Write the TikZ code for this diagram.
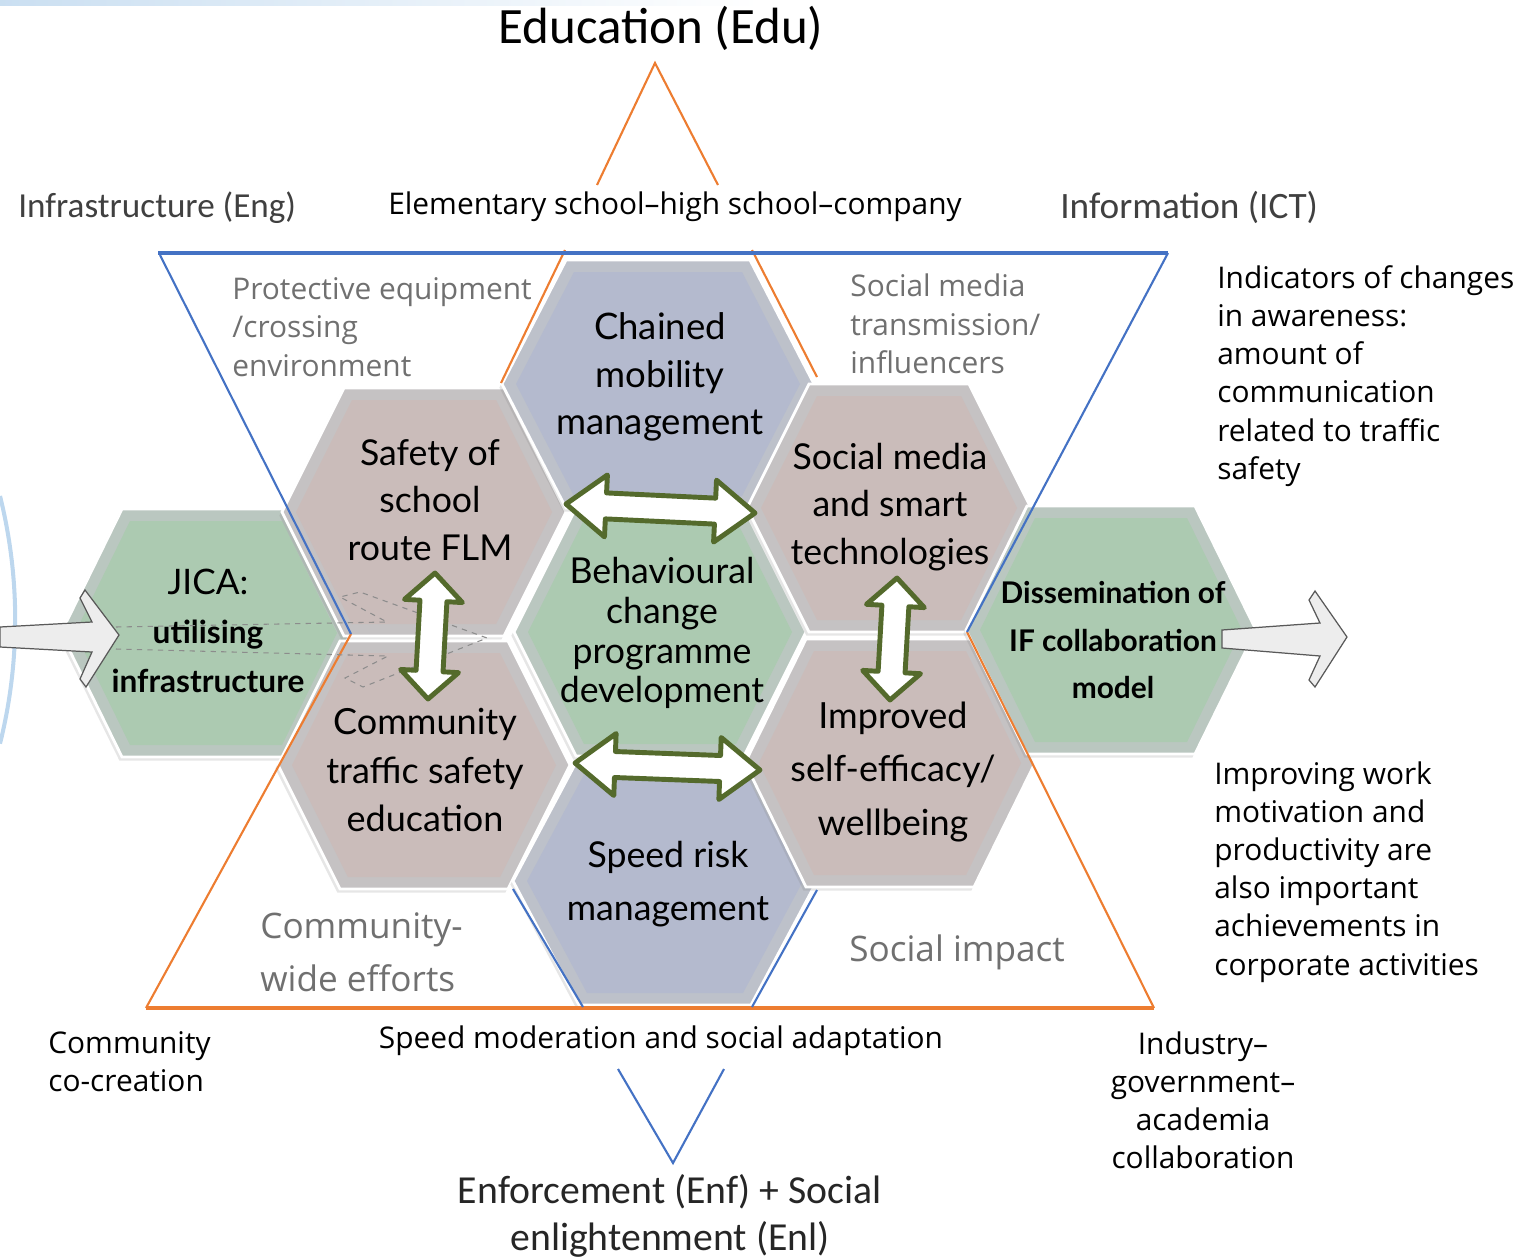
\documentclass[tikz,border=0pt]{standalone}
\usepackage{fontspec}
\setmainfont{Open Sans}
\newfontfamily\latofont{Lato}
\newfontfamily\calfont{Carlito}
\usetikzlibrary{calc,shadows}
\definecolor{hexgreen}{RGB}{172,202,177}
\definecolor{hexpink}{RGB}{202,188,186}
\definecolor{hexblue}{RGB}{180,186,206}
\definecolor{hexframe}{RGB}{194,197,200}
\definecolor{triorange}{RGB}{237,125,49}
\definecolor{triblue}{RGB}{68,114,196}
\definecolor{arrgreen}{RGB}{84,106,44}
\definecolor{lblgray}{RGB}{112,112,112}
\definecolor{arcblue}{RGB}{189,215,238}
\definecolor{blockfill}{RGB}{237,237,237}
\definecolor{blockline}{RGB}{89,89,89}
\definecolor{titlegray}{RGB}{64,64,64}
\definecolor{ghostgray}{RGB}{140,140,140}

% double block arrow between two named coordinates
\newcommand{\dblarr}[5]{%
  \draw[dblarrow] (#1)
   -- ($(#1)!#3!(#2)!#4!90:(#2)$)
   -- ($(#1)!#3!(#2)!#5!90:(#2)$)
   -- ($(#2)!#3!(#1)!#5!-90:(#1)$)
   -- ($(#2)!#3!(#1)!#4!-90:(#1)$)
   -- (#2)
   -- ($(#2)!#3!(#1)!#4!90:(#1)$)
   -- ($(#2)!#3!(#1)!#5!90:(#1)$)
   -- ($(#1)!#3!(#2)!#5!-90:(#2)$)
   -- ($(#1)!#3!(#2)!#4!-90:(#2)$)
   -- cycle;}

% bevelled hexagon: name, cx, cy, colour, half width at vertices, half width of top edge
\newcommand{\hexcell}[6]{%
  \coordinate (#1) at (#2,#3);
  \filldraw[hexouter, fill=#4!35!hexframe]
    ({#2-#5},#3) -- ({#2-#6},{#3-124}) -- ({#2+#6},{#3-124})
    -- ({#2+#5},#3) -- ({#2+#6},{#3+124}) -- ({#2-#6},{#3+124}) -- cycle;
  \fill[#4]
    ({#2-#5+14},#3) -- ({#2-#6+8},{#3-112}) -- ({#2+#6-8},{#3-112})
    -- ({#2+#5-14},#3) -- ({#2+#6-8},{#3+112}) -- ({#2-#6+8},{#3+112}) -- cycle;}

\tikzset{
  hexouter/.style={draw=white, line width=1.6pt,
    drop shadow={opacity=0.2, shadow xshift=-1.5pt, shadow yshift=-2pt}},
  hextext/.style={font=\latofont\fontsize{20.3}{27}\selectfont, align=center, inner sep=0pt},
  orangeline/.style={draw=triorange, line width=1.2pt},
  blueline/.style={draw=triblue, line width=1.2pt},
  dblarrow/.style={draw=arrgreen, fill=white, line width=2.8pt, line join=round},
  blockarrow/.style={draw=blockline, fill=blockfill, line width=0.7pt},
  ghost/.style={draw=ghostgray, dashed, line width=0.6pt},
  graylbl/.style={font=\fontsize{17}{21.8}\selectfont, text=lblgray, align=left, inner sep=0pt},
  biggray/.style={font=\fontsize{20}{30}\selectfont, text=lblgray, align=left, inner sep=0pt},
  blacklbl/.style={font=\fontsize{17}{21.7}\selectfont, text=black, inner sep=0pt},
  titlelbl/.style={font=\calfont\fontsize{20}{24}\selectfont, text=titlegray, inner sep=0pt}
}

\begin{document}
\begin{tikzpicture}[x=0.02cm, y=-0.02cm]
\useasboundingbox (0,0) rectangle (1526,1258);

% top-left faint bar and left arc
\shade[left color=arcblue!80, right color=white] (0,0) rectangle (760,5);
\draw[arcblue, line width=2.3pt] (0,496) arc[start angle=14, end angle=-14, radius=10.24cm];

% hexagons
\hexcell{hJICA}{206}{633}{hexgreen}{145}{84}
\hexcell{hSafety}{424}{512}{hexpink}{142}{80}
\hexcell{hComm}{424}{765}{hexpink}{146}{84}
\hexcell{hSpeed}{665}{881}{hexblue}{152}{86}
\hexcell{hBehav}{660}{632}{hexgreen}{146}{84}
\hexcell{hChained}{658}{384}{hexblue}{156}{92}
\hexcell{hSocial}{889}{508}{hexpink}{142}{80}
\hexcell{hImpr}{890}{763}{hexpink}{145}{84}
\hexcell{hDiss}{1111}{630}{hexgreen}{145}{84}

% triangle lines (visible parts)
\draw[orangeline] (597,185) -- (655,63) -- (718,185);
\draw[orangeline] (565,250) -- (501,383);
\draw[orangeline] (752,250) -- (817,377);
\draw[orangeline] (351,634) -- (146,1008);
\draw[orangeline] (967,632) -- (1154,1008);
\draw[triorange, line width=2pt] (146,1008) -- (1154,1008);
\draw[triblue, line width=1.8pt] (158,253) -- (1168,253);
\draw[blueline] (160,255) -- (351,634);
\draw[blueline] (1168,253) -- (967,632);
\draw[blueline] (513,889) -- (583,1007);
\draw[blueline] (817,890) -- (752,1007);
\draw[blueline] (618,1069) -- (673,1163) -- (724,1069);

% hexagon texts
\node[hextext] (xSafety) at (430,500) {Safety of\\school\\route FLM};
\node[hextext, font=\latofont\fontsize{20.8}{27}\selectfont] (xChained) at (660,377) {Chained\\mobility\\management};
\node[hextext] (xSocial) at (890,507) {Social media\\and smart\\technologies};
\node[hextext, font=\latofont\fontsize{20.3}{22.7}\selectfont] (xBehav) at (662,633)
  {Behavioural\\change\\programme\\development};
\node[hextext, font=\latofont\fontsize{20.5}{27.5}\selectfont] (xComm) at (425,770)
  {Community\\traffic safety\\education};
\node[hextext, font=\latofont\fontsize{20.5}{30.6}\selectfont] (xImpr) at (893,772)
  {Improved\\self-efficacy/\\wellbeing};
\node[hextext, font=\latofont\fontsize{20.3}{30}\selectfont] (xSpeed) at (668,884)
  {Speed risk\\management};
\node[hextext, font=\latofont\fontsize{20}{28}\selectfont] (xJICA) at (208,631)
  {JICA:\\{\bfseries\fontsize{18}{27}\selectfont utilising}\\{\bfseries\fontsize{18}{27}\selectfont infrastructure}};
\node[hextext, font=\latofont\bfseries\fontsize{17}{27}\selectfont] (xDiss) at (1113,640)
  {Dissemination of\\IF collaboration\\model};

% dashed ghost arrow outline
\draw[ghost] (116,627) -- (387,622) -- (340,597) -- (360,592) -- (487,638)
  -- (363,687) -- (345,678) -- (388,656) -- (116,649);

% grey block arrows
\draw[blockarrow] (0,627) -- (92,622) -- (80,598) -- (85,590) -- (119,635)
  -- (86,687) -- (80,679) -- (92,652) -- (0,647) -- cycle;
\draw[blockarrow] (1222,630) -- (1320,623) -- (1309,600) -- (1315,591) -- (1347,637)
  -- (1315,687) -- (1309,680) -- (1320,656) -- (1222,648) -- cycle;

% green double arrows
\coordinate (tA1) at (566,504); \coordinate (tA2) at (755,513);
\coordinate (tB1) at (575,763); \coordinate (tB2) at (760,770);
\coordinate (tC1) at (435,573); \coordinate (tC2) at (428,699);
\coordinate (tD1) at (897,578); \coordinate (tD2) at (890,700);
\dblarr{tA1}{tA2}{0.8cm}{0.62cm}{0.26cm}
\dblarr{tB1}{tB2}{0.8cm}{0.62cm}{0.26cm}
\dblarr{tC1}{tC2}{0.56cm}{0.58cm}{0.27cm}
\dblarr{tD1}{tD2}{0.56cm}{0.58cm}{0.27cm}

% titles
\node[font=\calfont\fontsize{29}{34}\selectfont, text=black, inner sep=0pt] (tEdu) at (661,28) {Education (Edu)};
\node[titlelbl, anchor=west] (tEng) at (18,208) {Infrastructure (Eng)};
\node[titlelbl, font=\calfont\fontsize{21.2}{24}\selectfont, anchor=west] (tICT) at (1060,207) {Information (ICT)};
\node[font=\calfont\fontsize{22.6}{26.6}\selectfont, text=black!85, align=center, inner sep=0pt] (tEnf) at (670,1216)
  {Enforcement (Enf) + Social\\enlightenment (Enl)};

% black labels
\node[blacklbl] (lElem) at (675,207) {Elementary school–high school–company};
\node[blacklbl] (lSpeedMod) at (661,1041) {Speed moderation and social adaptation};
\node[blacklbl, align=left, anchor=west] (lIndic) at (1217,376)
  {Indicators of changes\\in awareness:\\amount of\\communication\\related to traffic\\safety};
\node[blacklbl, align=left, anchor=west] (lImprov) at (1214,872)
  {Improving work\\motivation and\\productivity are\\also important\\achievements in\\corporate activities};
\node[blacklbl, align=left, anchor=west] (lCocr) at (48,1062) {Community\\co-creation};
\node[blacklbl, align=center] (lIGA) at (1203,1100) {Industry–\\government–\\academia\\collaboration};

% grey labels
\node[graylbl, anchor=west] (lProt) at (232,327) {Protective equipment\\/crossing\\environment};
\node[graylbl, anchor=west] (lSMT) at (850,324) {Social media\\transmission/\\influencers};
\node[biggray, anchor=west] (lCWE) at (260,952) {Community-\\wide efforts};
\node[biggray, anchor=west] (lSI) at (849,952) {Social impact};
\end{tikzpicture}
\end{document}
